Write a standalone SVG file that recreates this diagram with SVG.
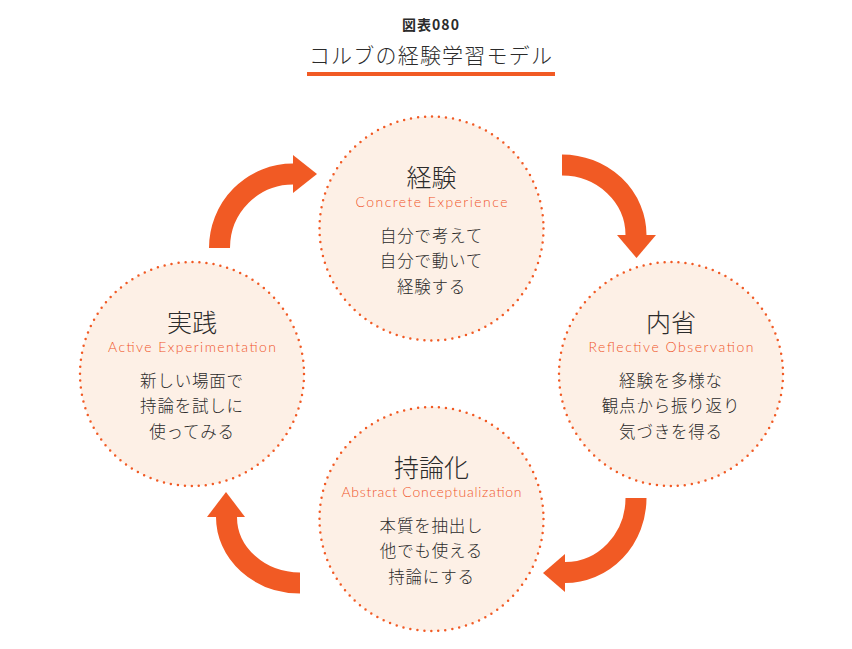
<svg xmlns="http://www.w3.org/2000/svg" width="852" height="649" viewBox="0 0 852 649">
<style>
.jp{font-family:"Noto Sans CJK JP","Noto Sans",sans-serif;fill:#2b2b2b;text-anchor:middle;font-weight:300}
.head{font-size:25px}
.body{font-size:16.5px;letter-spacing:0.8px}
.en{font-family:Lato,"Noto Sans",sans-serif;font-size:14px;font-weight:300;fill:#f0562a;text-anchor:middle}
.circ{fill:#fdf0e6;stroke:#f15a24;stroke-width:2.5;stroke-linecap:round;stroke-dasharray:0 7.037}
.shaft{fill:none;stroke:#f15a24;stroke-width:21}
.head-a{fill:#f15a24}
</style>
<rect width="852" height="649" fill="#fff"/>
<g id="title">
<text class="jp" x="431" y="30" style="font-size:14px;font-weight:bold;letter-spacing:1px">図表080</text>
<text class="jp" x="431" y="63" style="font-size:21px;letter-spacing:1.2px">コルブの経験学習モデル</text>
<rect x="307" y="72" width="248" height="4" fill="#f15a24"/>
</g>
<g id="connectors">
<path class="shaft" d="M219.5 248 A73.5 74 0 0 1 293 174"/>
<polygon class="head-a" points="293,155 317,174 293,193"/>
<path class="shaft" d="M562 165 A74 70 0 0 1 636 235"/>
<polygon class="head-a" points="617,235 636.5,258 656,235"/>
<path class="shaft" d="M636 498 A71 74.5 0 0 1 565 572.5"/>
<polygon class="head-a" points="565,554 543,573 565,592"/>
<path class="shaft" d="M300 583 A73.5 66 0 0 1 226.5 517"/>
<polygon class="head-a" points="207,517 226,492 245,517"/>
</g>
<g id="node-experience">
<circle class="circ" cx="431.5" cy="228.5" r="112"/>
<text class="jp head" x="431.5" y="187">経験</text>
<text class="en" x="431.5" y="207" textLength="152" lengthAdjust="spacing">Concrete Experience</text>
<text class="jp body" x="431.5" y="242">自分で考えて</text>
<text class="jp body" x="431.5" y="267">自分で動いて</text>
<text class="jp body" x="431.5" y="293">経験する</text>
</g>
<g id="node-reflection">
<circle class="circ" cx="671" cy="374" r="112"/>
<text class="jp head" x="671" y="332">内省</text>
<text class="en" x="671" y="352" textLength="165" lengthAdjust="spacing">Reflective Observation</text>
<text class="jp body" x="671" y="387">経験を多様な</text>
<text class="jp body" x="671" y="412">観点から振り返り</text>
<text class="jp body" x="671" y="438">気づきを得る</text>
</g>
<g id="node-conceptualization">
<circle class="circ" cx="431.5" cy="519" r="112"/>
<text class="jp head" x="431.5" y="477">持論化</text>
<text class="en" x="431.5" y="497" textLength="180" lengthAdjust="spacing">Abstract Conceptualization</text>
<text class="jp body" x="431.5" y="532">本質を抽出し</text>
<text class="jp body" x="431.5" y="557">他でも使える</text>
<text class="jp body" x="431.5" y="583">持論にする</text>
</g>
<g id="node-experimentation">
<circle class="circ" cx="192" cy="374" r="112"/>
<text class="jp head" x="192" y="332">実践</text>
<text class="en" x="192" y="352" textLength="168" lengthAdjust="spacing">Active Experimentation</text>
<text class="jp body" x="192" y="387">新しい場面で</text>
<text class="jp body" x="192" y="412">持論を試しに</text>
<text class="jp body" x="192" y="438">使ってみる</text>
</g>
</svg>
